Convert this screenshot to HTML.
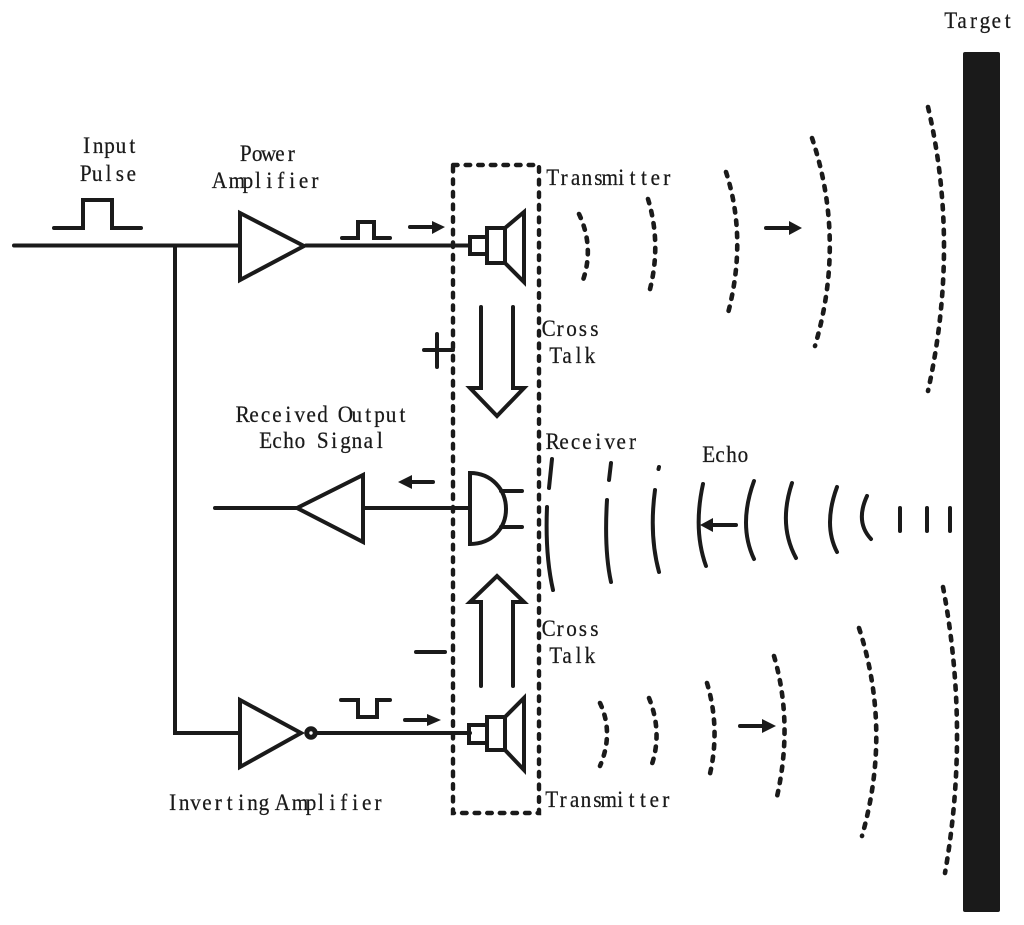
<!DOCTYPE html>
<html><head><meta charset="utf-8"><style>
html,body{margin:0;padding:0;background:#fff}
svg{display:block}
text{font-family:"Liberation Serif",serif;font-size:23px;fill:#1a1a1a;stroke:#1a1a1a;stroke-width:.25;text-anchor:middle}
.w{fill:none;stroke:#1a1a1a;stroke-width:4;stroke-linecap:round;stroke-linejoin:miter}
.t{fill:none;stroke:#1a1a1a;stroke-width:4.6;stroke-linecap:round;stroke-dasharray:4.4 8}
.e{fill:none;stroke:#1a1a1a;stroke-width:4;stroke-linecap:round}
.h{fill:#1a1a1a;stroke:none}
</style></head><body>
<svg width="1024" height="925" viewBox="0 0 1024 925" xmlns="http://www.w3.org/2000/svg">
<rect x="963" y="52" width="37" height="860" rx="2" fill="#1a1a1a"/>
<text transform="translate(945,28) scale(.92,1)" x="6.2 18.6 31 43.4 55.8 68.2">Target</text>
<text transform="translate(81,153) scale(.92,1)" x="6.2 18.6 31 43.4 55.8">Input</text>
<text transform="translate(80,181) scale(.92,1)" x="6.2 18.6 31 43.4 55.8">Pulse</text>
<text transform="translate(240,161) scale(.92,1)" x="6.2 18.6 31 43.4 55.8">Power</text>
<text transform="translate(218,188) scale(.92,1)" x="1.5 20.5 32.5 43.4 55.8 68.2 80.6 93 105.4">Amplifier</text>
<text transform="translate(547,185) scale(.92,1)" x="6.2 18.6 31 43.4 55.8 68.2 80.6 93 105.4 117.8 130.2">Transmitter</text>
<text transform="translate(543,336) scale(.92,1)" x="6.2 18.6 31 43.4 55.8">Cross</text>
<text transform="translate(550,363) scale(.92,1)" x="6.2 18.6 31 43.4">Talk</text>
<text transform="translate(237,422) scale(.92,1)" x="6.2 18.6 31 43.4 55.8 68.2 80.6 93 105.4 117.8 130.2 142.6 155 167.4 179.8">Received Output</text>
<text transform="translate(260,448) scale(.92,1)" x="6.2 18.6 31 43.4 55.8 68.2 80.6 93 105.4 117.8 130.2">Echo Signal</text>
<text transform="translate(547,449) scale(.92,1)" x="6.2 18.6 31 43.4 55.8 68.2 80.6 93">Receiver</text>
<text transform="translate(703,462) scale(.92,1)" x="6.2 18.6 31 43.4">Echo</text>
<text transform="translate(543,636) scale(.92,1)" x="6.2 18.6 31 43.4 55.8">Cross</text>
<text transform="translate(550,663) scale(.92,1)" x="6.2 18.6 31 43.4">Talk</text>
<text transform="translate(167,810) scale(.92,1)" x="6.2 18.6 31 43.4 55.8 68.2 80.6 93 105.4 117.8 125.5 144.5 156.5 167.4 179.8 192.2 204.6 217 229.4">Inverting Amplifier</text>
<text transform="translate(546,807) scale(.92,1)" x="6.2 18.6 31 43.4 55.8 68.2 80.6 93 105.4 117.8 130.2">Transmitter</text>

<path class="w" d="M14 245.500H240M175 245.500V733H240"/>
<path class="w" d="M54 228H83V200H112V228H141"/>
<path class="w" d="M240 213V280L304 246Z"/>
<path class="w" d="M306 245.500H470"/>
<path class="w" d="M342 238H358V222H374V238H390"/>
<path class="w" d="M410 227H434"/><path class="h" d="M432 221L445 227L432 234Z"/>
<rect x="453" y="165" width="86" height="648" fill="none" stroke="#1a1a1a" stroke-width="4.4" stroke-linecap="round" stroke-dasharray="4.6 8"/>
<path class="w" d="M470 237H487V254H470ZM487 228H505V263H487ZM505 228L524 212V282L505 263"/>
<path class="w" d="M424 350H453M437 334V367"/>
<path class="w" d="M481 307V388H470L497 416L524 388H513V307"/>

<path class="w" d="M215 508H297M363 475V542L297 508ZM363 508H470"/>
<path class="w" d="M411 482H433"/><path class="h" d="M412 475L398 482L412 489Z"/>
<path class="w" d="M470 473C492 473 506 490 506 509C506 528 492 544 470 544Z"/>
<path class="w" d="M501 491H522M501 527H522"/>

<path class="w" d="M481 686V602H470L497 576L524 602H513V686"/>
<path class="w" d="M416 652H445"/>

<path class="w" d="M240 700V767L301 733Z"/>
<circle cx="311" cy="733" r="4.2" fill="#fff" stroke="#1a1a1a" stroke-width="5"/>
<path class="w" d="M317 733H470"/>
<path class="w" d="M341 700H358V717H377V700H390"/>
<path class="w" d="M405 720H428"/><path class="h" d="M427 714L441 720L427 726Z"/>
<path class="w" d="M469 725H487V743H469ZM487 717H505V750H487ZM505 717L524 698V770L505 750"/>

<path class="t" d="M579 214Q595 248 582 283"/>
<path class="t" d="M648 199Q662 245 649 293"/>
<path class="t" d="M726 172Q748 240 727 317"/>
<path class="t" d="M812 138Q846 240 815 346"/>
<path class="t" d="M928 107Q960 245 928 391"/>
<path class="w" d="M766 228H790"/><path class="h" d="M789 221L802 228L789 235Z"/>

<path class="e" d="M552 459L549 488"/>
<path class="e" d="M547 507Q545 555 553 590"/>
<path class="e" d="M611 463L609 480"/>
<path class="e" d="M607 500Q604 550 611 582"/>
<path class="e" d="M659 467L658.500 469"/>
<path class="e" d="M655 490Q649 535 659 572"/>
<path class="e" d="M703 484Q693 530 706 566"/>
<path class="e" d="M754 481Q738 525 754 559"/>
<path class="e" d="M792 483Q778 525 796 558"/>
<path class="e" d="M837 487Q823 525 837 552"/>
<path class="e" d="M867 496Q855 522 871 539"/>
<path class="e" d="M900 508V531M927 508V531M950 508V531"/>
<path class="w" d="M712 525H736"/><path class="h" d="M713 518L700 525L713 532Z"/>

<path class="t" d="M600 703Q614 733 600 766"/>
<path class="t" d="M649 698Q663 733 651 767"/>
<path class="t" d="M707 683Q721 730 709 778"/>
<path class="t" d="M774 656Q794 725 776 801"/>
<path class="t" d="M859 628Q892 730 862 836"/>
<path class="t" d="M943 587Q970 730 945 873"/>
<path class="w" d="M740 726H763"/><path class="h" d="M762 719L776 726L762 733Z"/>
</svg>
</body></html>
